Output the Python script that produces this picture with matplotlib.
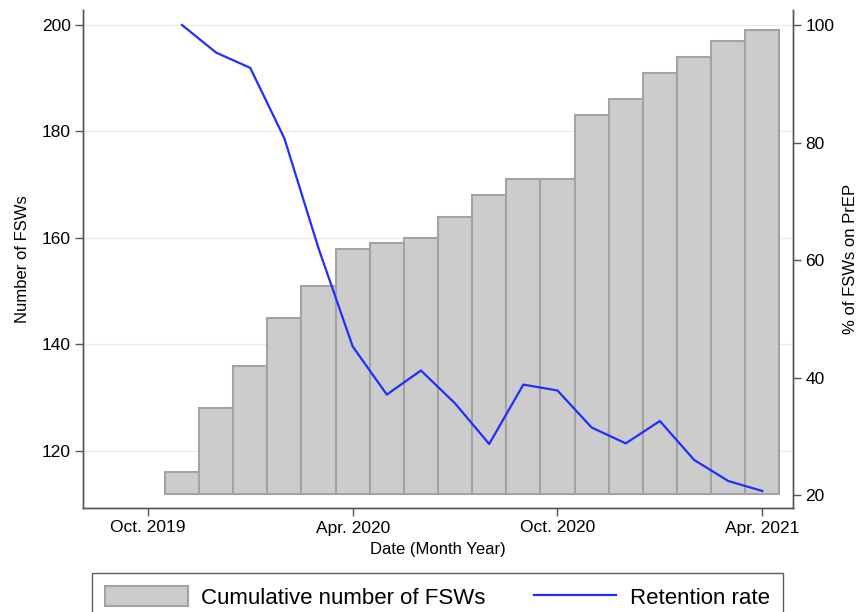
import numpy as np
import matplotlib.pyplot as plt

plt.rcParams['font.family'] = ['Liberation Sans', 'DejaVu Sans']

# monthly data, Nov 2019 - Apr 2021
months = ["Nov. 2019", "Dec. 2019", "Jan. 2020", "Feb. 2020", "Mar. 2020", "Apr. 2020",
          "May 2020", "Jun. 2020", "Jul. 2020", "Aug. 2020", "Sep. 2020", "Oct. 2020",
          "Nov. 2020", "Dec. 2020", "Jan. 2021", "Feb. 2021", "Mar. 2021", "Apr. 2021"]
cum_fsw = [116, 128, 136, 145, 151, 158, 159, 160, 164, 168, 171, 171,
           183, 186, 191, 194, 197, 199]
retention = [100, 95.3, 92.7, 80.7, 62, 45.3, 37.1, 41.2, 35.6, 28.7, 38.8, 37.8,
             31.5, 28.8, 32.6, 26.0, 22.4, 20.7]
tick_labels = ["Oct. 2019", "Apr. 2020", "Oct. 2020", "Apr. 2021"]
tick_pos = [0, 6, 12, 18]  # months after Oct. 2019
bar_base = 112

x = np.arange(1, len(months) + 1)

fig = plt.figure(figsize=(8.63, 6.12), dpi=100)
ax = fig.add_axes([83/863, 1 - 508/612, (793 - 83)/863, (508 - 10)/612])
ax2 = ax.twinx()

ax.bar(x, np.array(cum_fsw) - bar_base, bottom=bar_base, width=1,
       color='#cccccc', edgecolor='#a3a3a3', linewidth=1.5,
       label='Cumulative number of FSWs', zorder=2)
ax2.plot(x, retention, color='#1f2fff', lw=1.6, label='Retention rate')

ax.set_xlim(-1.9, 18.9)
ax.set_ylim(109.3, 202.8)
ax2.set_ylim(17.8, 102.55)

ax.set_yticks([120, 140, 160, 180, 200])
ax2.set_yticks([20, 40, 60, 80, 100])
ax.set_xticks(tick_pos)
ax.set_xticklabels(tick_labels)
ax.yaxis.grid(True, color='#ebebeb', lw=0.9, zorder=0)
ax.set_axisbelow(True)

for a in (ax, ax2):
    a.spines['top'].set_visible(False)
    for s in ('left', 'right', 'bottom'):
        a.spines[s].set_color('#555555')
        a.spines[s].set_linewidth(1.0)
    a.tick_params(labelsize=12.5, length=6, color='#555555', width=1.0, pad=3)

ax.set_ylabel("Number of FSWs", fontsize=12, labelpad=8)
ax2.set_ylabel("% of FSWs on PrEP", fontsize=12, labelpad=6)
ax.set_xlabel("Date (Month Year)", fontsize=12, labelpad=5)

h1, l1 = ax.get_legend_handles_labels()
h2, l2 = ax2.get_legend_handles_labels()
fig.legend(h1 + h2, l1 + l2, loc='upper left', bbox_to_anchor=(92/863, 1 - 573/612),
           borderaxespad=0, ncol=2, fontsize=16, frameon=True, fancybox=False,
           edgecolor='#333333', handlelength=3.7, handleheight=1.0, handletextpad=0.6,
           columnspacing=2.2, borderpad=0.6)

fig.savefig("out.png", dpi=100)
